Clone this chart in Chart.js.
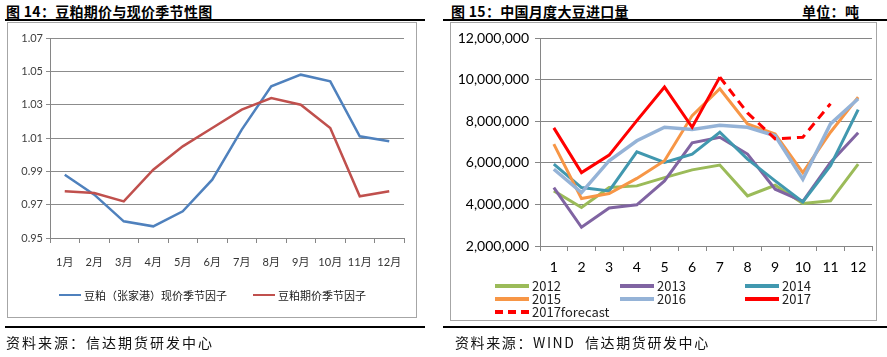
<!DOCTYPE html>
<html><head><meta charset="utf-8">
<script src="https://cdn.jsdelivr.net/npm/chart.js@4.4.0/dist/chart.umd.min.js"></script>
<style>
html,body{margin:0;padding:0;background:#fff;}
body{width:887px;height:357px;position:relative;overflow:hidden;font-family:"Noto Sans CJK SC",sans-serif;}
.abs{position:absolute;}
.title{font-weight:bold;font-size:14px;color:#000;white-space:nowrap;line-height:16px;letter-spacing:0.3px;}
.rule{background:#000;height:2px;}
.box{border:1px solid #a6a6a6;box-sizing:border-box;}
.src{font-size:14px;color:#111;white-space:nowrap;letter-spacing:2px;line-height:16px;}
.lg{white-space:nowrap;color:#222;}
.lg .sw{position:absolute;}
</style></head>
<body>
<div class="abs title" style="left:6px;top:3px;">图 14：豆粕期价与现价季节性图</div>
<div class="abs rule" style="left:5px;top:19px;width:420px;"></div>
<div class="abs box" style="left:7px;top:22px;width:410px;height:296px;"></div>
<canvas id="c1" class="abs" width="408" height="294" style="left:8px;top:23px;"></canvas>
<div id="lg1" class="abs" style="left:8px;top:288px;width:408px;height:16px;"></div>
<div class="abs rule" style="left:5px;top:326px;width:420px;"></div>
<div class="abs src" style="left:6px;top:334px;">资料来源：信达期货研发中心</div>

<div class="abs title" style="left:451px;top:3px;">图 15：中国月度大豆进口量</div>
<div class="abs title" style="left:802px;top:3px;">单位：吨</div>
<div class="abs rule" style="left:443px;top:19px;width:444px;"></div>
<div class="abs box" style="left:450px;top:22px;width:427px;height:299px;"></div>
<canvas id="c2" class="abs" width="425" height="297" style="left:451px;top:23px;"></canvas>
<div id="lg2" class="abs" style="left:451px;top:279px;width:425px;height:42px;"></div>
<div class="abs rule" style="left:443px;top:326px;width:444px;"></div>
<div class="abs src" style="left:455px;top:334px;letter-spacing:1.6px;">资料来源：WIND&nbsp; 信达期货研发中心</div>

<script>
// ---- Chart 14 data ----
const months = ['1月','2月','3月','4月','5月','6月','7月','8月','9月','10月','11月','12月'];
const spotFactor = [0.988, 0.976, 0.960, 0.957, 0.966, 0.985, 1.015, 1.041, 1.048, 1.044, 1.011, 1.008];
const futuresFactor = [0.978, 0.977, 0.972, 0.991, 1.005, 1.016, 1.027, 1.034, 1.030, 1.016, 0.975, 0.978];
const seriesNames14 = ['豆粕（张家港）现价季节因子', '豆粕期价季节因子'];
const yTicks14 = [0.95, 0.97, 0.99, 1.01, 1.03, 1.05, 1.07];

// ---- Chart 15 data ----
const monthNums = ['1','2','3','4','5','6','7','8','9','10','11','12'];
const imp2012 = [4650000, 3850000, 4810000, 4890000, 5290000, 5660000, 5890000, 4410000, 4920000, 4040000, 4170000, 5940000];
const imp2013 = [4810000, 2900000, 3830000, 3980000, 5130000, 6960000, 7230000, 6420000, 4730000, 4140000, 6020000, 7440000];
const imp2014 = [5940000, 4810000, 4650000, 6530000, 6020000, 6420000, 7470000, 6180000, 5130000, 4120000, 5860000, 8560000];
const imp2015 = [6900000, 4280000, 4520000, 5250000, 6100000, 8270000, 9560000, 7870000, 7380000, 5530000, 7470000, 9160000];
const imp2016 = [5690000, 4570000, 6100000, 7060000, 7710000, 7600000, 7800000, 7710000, 7300000, 5210000, 7870000, 9080000];
const imp2017 = [7680000, 5530000, 6370000, 8030000, 9640000, 7710000, 10120000, null, null, null, null, null];
const imp2017f = [null, null, null, null, null, null, 10120000, 8400000, 7150000, 7230000, 8840000, null];
const seriesNames15 = ['2012','2013','2014','2015','2016','2017','2017forecast'];
const yTicks15 = [2000000, 4000000, 6000000, 8000000, 10000000, 12000000];

const c14 = ['#4F81BD', '#C0504D'];
const c15 = ['#9BBB59', '#8064A2', '#4198AF', '#F79646', '#95B3D7', '#FF0000', '#FF0000'];

Chart.defaults.animation = false;
Chart.defaults.responsive = false;

// Chart 14
new Chart(document.getElementById('c1'), {
  type: 'line',
  data: { labels: months, datasets: [
    { label: seriesNames14[0], data: spotFactor, borderColor: c14[0], backgroundColor: c14[0], borderWidth: 2.5, pointRadius: 0, tension: 0, order: 2 },
    { label: seriesNames14[1], data: futuresFactor, borderColor: c14[1], backgroundColor: c14[1], borderWidth: 2.5, pointRadius: 0, tension: 0, order: 1 }
  ]},
  options: {
    layout: { padding: { left: 0, right: 12, top: 15, bottom: 0 } },
    plugins: { legend: { display: false }, tooltip: { enabled: false } },
    scales: {
      x: {
        offset: true,
        grid: { offset: true, drawOnChartArea: false, tickLength: 5, color: '#868686' },
        border: { color: '#868686' },
        ticks: { padding: 13, color: '#333', font: { family: 'Lato, "Noto Sans CJK SC"', size: 11 }, maxRotation: 0 },
        afterFit: s => { s.height = 79; }
      },
      y: {
        min: yTicks14[0], max: yTicks14[yTicks14.length - 1],
        afterBuildTicks: s => { s.ticks = yTicks14.map(v => ({ value: v })); },
        grid: { color: '#8c8c8c', tickLength: 4 },
        border: { color: '#868686' },
        ticks: { padding: 3, color: '#404040', font: { family: 'Lato', size: 11 }, callback: v => Number(v).toFixed(2) },
        afterFit: s => { s.width = 42; }
      }
    }
  }
});

// Chart 15
const ds15 = [imp2012, imp2013, imp2014, imp2015, imp2016, imp2017, imp2017f].map((d, i) => ({
  label: seriesNames15[i], data: d, borderColor: c15[i], backgroundColor: c15[i],
  borderWidth: i === 4 ? 3.5 : 3, pointRadius: 0, tension: 0, spanGaps: false,
  borderDash: i === 6 ? [9, 6] : [], order: 6 - i
}));
new Chart(document.getElementById('c2'), {
  type: 'line',
  data: { labels: monthNums, datasets: ds15 },
  options: {
    layout: { padding: { left: 0, right: 4, top: 15, bottom: 0 } },
    plugins: { legend: { display: false }, tooltip: { enabled: false } },
    scales: {
      x: {
        offset: true,
        grid: { offset: true, drawOnChartArea: false, tickLength: 5, color: '#868686' },
        border: { color: '#868686' },
        ticks: { padding: 8, color: '#000', font: { family: 'Lato', size: 14 }, maxRotation: 0 },
        afterFit: s => { s.height = 74; }
      },
      y: {
        min: yTicks15[0], max: yTicks15[yTicks15.length - 1],
        afterBuildTicks: s => { s.ticks = yTicks15.map(v => ({ value: v })); },
        grid: { color: '#868686', tickLength: 5 },
        border: { color: '#868686' },
        ticks: { padding: 6, color: '#000', font: { family: 'Lato', size: 14 }, callback: v => Number(v).toLocaleString('en-US') },
        afterFit: s => { s.width = 89; }
      }
    }
  }
});

// HTML legends built from the same series names/colours
function item(parent, x, y, w, color, dashed, thick, text, fs) {
  const d = document.createElement('div');
  d.className = 'abs lg';
  d.style.left = x + 'px'; d.style.top = y + 'px';
  d.style.fontSize = fs + 'px'; d.style.lineHeight = '14px';
  d.style.paddingLeft = (w + 3) + 'px';
  const sw = document.createElement('div');
  sw.className = 'sw';
  sw.style.left = '0px'; sw.style.top = (7 - Math.round(thick / 2)) + 'px'; sw.style.width = w + 'px';
  sw.style.borderTop = thick + 'px ' + (dashed ? 'dashed' : 'solid') + ' ' + color;
  d.appendChild(sw);
  d.appendChild(document.createTextNode(text));
  parent.appendChild(d);
}
const lg1 = document.getElementById('lg1');
item(lg1, 51, 0, 22, c14[0], false, 2, seriesNames14[0], 11);
item(lg1, 245, 0, 22, c14[1], false, 2, seriesNames14[1], 11);
const lg2 = document.getElementById('lg2');
seriesNames15.forEach((n, i) => {
  const col = i % 3, row = Math.floor(i / 3);
  item(lg2, 44 + col * 125, row * 13, 34, c15[i], i === 6, 4, n, 13);
});
</script>
</body></html>
